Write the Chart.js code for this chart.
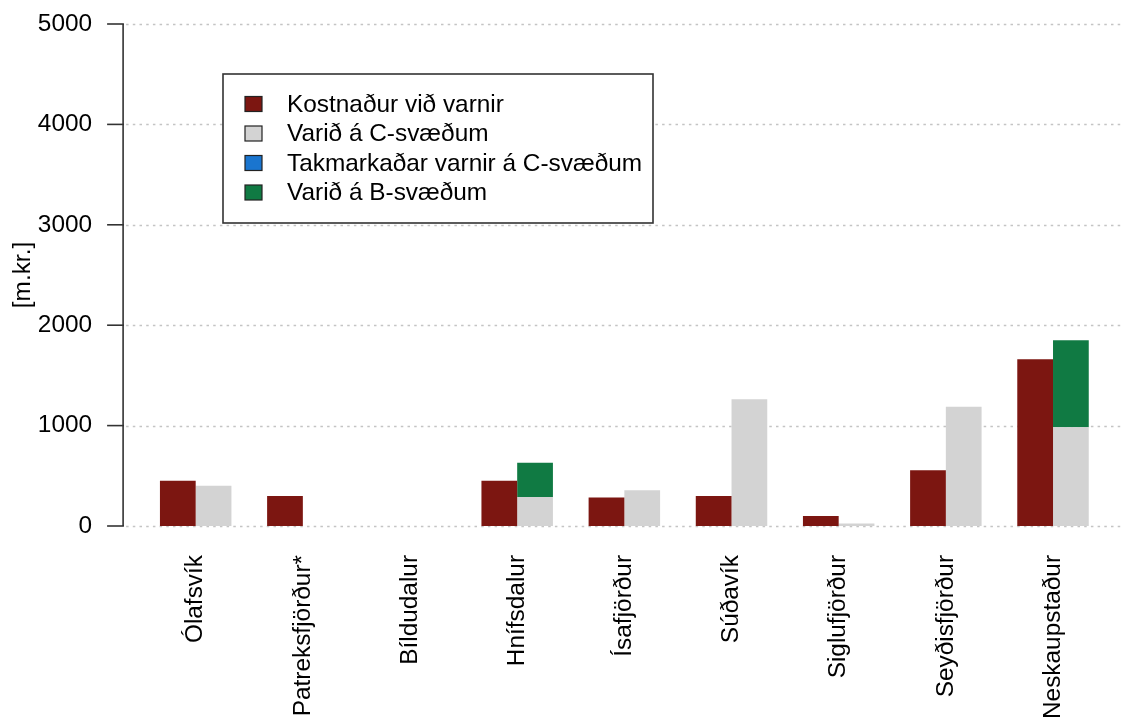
<!DOCTYPE html>
<html>
<head>
<meta charset="utf-8">
<script src="https://cdn.jsdelivr.net/npm/chart.js@4/dist/chart.umd.min.js"></script>
<style>
  html, body { margin: 0; padding: 0; background: #fff; }
  #wrap { width: 1122px; height: 718px; position: relative; }
</style>
</head>
<body>
<div id="wrap"><canvas id="c" width="1122" height="718"></canvas></div>
<script>
const categories = ['Ólafsvík', 'Patreksfjörður*', 'Bíldudalur', 'Hnífsdalur', 'Ísafjörður', 'Súðavík', 'Siglufjörður', 'Seyðisfjörður', 'Neskaupstaður'];
const kostnadur = [450, 300, 0, 450, 285, 300, 100, 555, 1660];
const varidC = [400, 0, 0, 290, 355, 1262, 25, 1188, 983];
const takmarkad = [0, 0, 0, 0, 0, 0, 0, 0, 0];
const varidB = [0, 0, 0, 340, 0, 0, 0, 0, 867];
const yTicks = [0, 1000, 2000, 3000, 4000, 5000];
const seriesNames = ['Kostnaður við varnir', 'Varið á C-svæðum', 'Takmarkaðar varnir á C-svæðum', 'Varið á B-svæðum'];
const seriesColors = ['#7c1611', '#d3d3d3', '#1a75cf', '#107a43'];

const FONT = 'Liberation Sans, Arial, Helvetica, sans-serif';
const FS = 24.4;

const axisPlugin = {
  id: 'rAxis',
  beforeDatasetsDraw(chart) {
    const ctx = chart.ctx, y = chart.scales.y, ca = chart.chartArea;
    const axisX = ca.left - 19;
    ctx.save();
    ctx.strokeStyle = '#c4c4c4';
    ctx.lineWidth = 1.5;
    ctx.setLineDash([2.5, 4.2]);
    yTicks.forEach(v => {
      const py = Math.round(y.getPixelForValue(v)) + 0.5;
      ctx.beginPath();
      ctx.moveTo(axisX + 3, py);
      ctx.lineTo(chart.width, py);
      ctx.stroke();
    });
    ctx.setLineDash([]);
    ctx.strokeStyle = '#333';
    ctx.lineWidth = 1.6;
    const top = y.getPixelForValue(yTicks[yTicks.length - 1]);
    const bot = y.getPixelForValue(yTicks[0]);
    ctx.beginPath();
    ctx.moveTo(axisX, top);
    ctx.lineTo(axisX, bot);
    ctx.stroke();
    yTicks.forEach(v => {
      const py = y.getPixelForValue(v);
      ctx.beginPath();
      ctx.moveTo(axisX - 16, py);
      ctx.lineTo(axisX + 0.8, py);
      ctx.stroke();
    });
    ctx.restore();
  },
  afterDraw(chart) {
    const ctx = chart.ctx;
    ctx.save();
    const bx = 223, by = 74, bw = 430, bh = 149;
    ctx.fillStyle = '#fff';
    ctx.fillRect(bx, by, bw, bh);
    ctx.strokeStyle = '#333';
    ctx.lineWidth = 1.6;
    ctx.strokeRect(bx, by, bw, bh);
    ctx.font = FS + 'px ' + FONT;
    ctx.textBaseline = 'middle';
    ctx.textAlign = 'left';
    chart.data.datasets.forEach((ds, i) => {
      const cy = 104 + i * 29.5;
      ctx.fillStyle = ds.backgroundColor;
      ctx.fillRect(245, cy - 7.5, 17, 15);
      ctx.strokeStyle = '#222';
      ctx.lineWidth = 1.2;
      ctx.strokeRect(245, cy - 7.5, 17, 15);
      ctx.fillStyle = '#000';
      ctx.fillText(ds.label, 287, cy + 1);
    });
    ctx.restore();
  }
};

new Chart(document.getElementById('c'), {
  type: 'bar',
  data: {
    labels: categories,
    datasets: [
      { label: seriesNames[0], data: kostnadur, backgroundColor: seriesColors[0], stack: 'a' },
      { label: seriesNames[1], data: varidC, backgroundColor: seriesColors[1], stack: 'b' },
      { label: seriesNames[2], data: takmarkad, backgroundColor: seriesColors[2], stack: 'b' },
      { label: seriesNames[3], data: varidB, backgroundColor: seriesColors[3], stack: 'b' }
    ]
  },
  options: {
    responsive: false,
    animation: false,
    devicePixelRatio: 1,
    layout: { padding: { top: 24, right: 15.4, left: 0, bottom: 0 } },
    datasets: { bar: { categoryPercentage: 0.667, barPercentage: 1.0, borderWidth: 0 } },
    plugins: { legend: { display: false }, tooltip: { enabled: false } },
    scales: {
      x: {
        stacked: true,
        grid: { display: false, drawTicks: false },
        border: { display: false },
        ticks: {
          minRotation: 90, maxRotation: 90, autoSkip: false, padding: 29,
          color: '#000', font: { family: FONT, size: FS }
        },
        afterFit(scale) {
          scale.height = 192;
          scale.paddingLeft = 0; scale.paddingRight = 0;
          scale.paddingTop = 0; scale.paddingBottom = 0;
        }
      },
      y: {
        stacked: true,
        min: 0, max: 5000,
        grid: { display: false, drawTicks: false },
        border: { display: false },
        ticks: {
          stepSize: 1000, padding: 50, color: '#000',
          font: { family: FONT, size: FS },
          callback: (v) => String(v)
        },
        title: {
          display: true, text: '[m.kr.]', color: '#000',
          font: { family: FONT, size: FS }, padding: { top: 9, bottom: 0 }
        },
        afterFit(scale) {
          scale.width = 142.1;
          scale.paddingTop = 0; scale.paddingBottom = 0;
          scale.paddingLeft = 0; scale.paddingRight = 0;
        }
      }
    }
  },
  plugins: [axisPlugin]
});
</script>
</body>
</html>
